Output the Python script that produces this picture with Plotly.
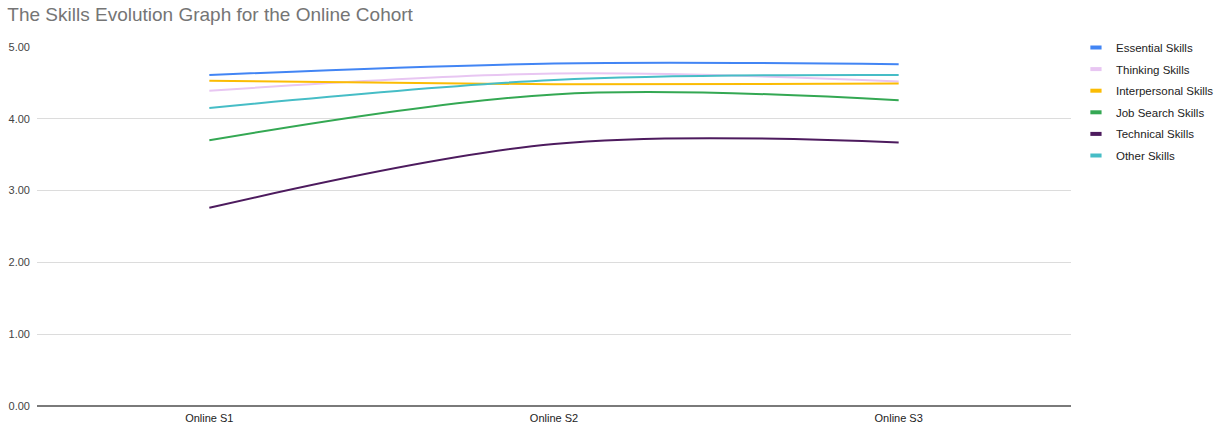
import plotly.graph_objects as go

categories = ["Online S1", "Online S2", "Online S3"]
series_names = ["Essential Skills", "Thinking Skills", "Interpersonal Skills",
                "Job Search Skills", "Technical Skills", "Other Skills"]
essential = [4.61, 4.77, 4.76]
thinking = [4.39, 4.63, 4.52]
interpersonal = [4.53, 4.48, 4.49]
job_search = [3.70, 4.34, 4.26]
technical = [2.76, 3.65, 3.67]
other = [4.15, 4.54, 4.61]
colors = ["#4285F4", "#E8C6F2", "#FBBC04", "#34A853", "#4D1B5E", "#46BDC6"]
y_ticks = [0, 1, 2, 3, 4, 5]

values = [essential, thinking, interpersonal, job_search, technical, other]

fig = go.Figure()
for name, vals, col in zip(series_names, values, colors):
    fig.add_trace(go.Scatter(
        x=categories, y=vals, name=name, mode="lines", showlegend=False,
        line=dict(color=col, width=2, shape="spline", smoothing=1.0),
    ))
# legend entries with short thick swatches
for name, col in zip(series_names, colors):
    fig.add_trace(go.Scatter(
        x=[None], y=[None], name=name, mode="markers", legendgroup=name,
        marker=dict(symbol="line-ew-open", size=8, color=col,
                    line=dict(color=col, width=4)),
    ))

fig.update_layout(
    width=1225, height=427,
    paper_bgcolor="white", plot_bgcolor="white",
    margin=dict(l=37, r=154, t=47, b=21, autoexpand=False),
    font=dict(family="Liberation Sans, Arial, sans-serif", size=11, color="#444444"),
    title=dict(text="The Skills Evolution Graph for the Online Cohort",
               x=0.006, xanchor="left", y=0.983, yanchor="top",
               font=dict(size=19, color="#757575")),
    showlegend=True,
    legend=dict(x=1.0048, xanchor="left", y=1.039, yanchor="top",
                font=dict(size=11.5, color="#222222"),
                itemwidth=30, tracegroupgap=2.6, bgcolor="rgba(0,0,0,0)"),
    xaxis=dict(type="category", range=[-0.5, 2.5], showgrid=False,
               showline=False, ticks="", ticklabelstandoff=4,
               tickfont=dict(size=11, color="#222222")),
    yaxis=dict(range=[0, 5.0], tickvals=y_ticks,
               ticktext=[f"{v:.2f}" for v in y_ticks],
               showgrid=True, gridcolor="#dcdcdc", gridwidth=1,
               zeroline=True, zerolinecolor="#7a7a7a", zerolinewidth=1.5,
               showline=False, ticks="", ticklabelstandoff=6,
               tickfont=dict(size=11, color="#444444")),
)

fig.write_html("out.html")
